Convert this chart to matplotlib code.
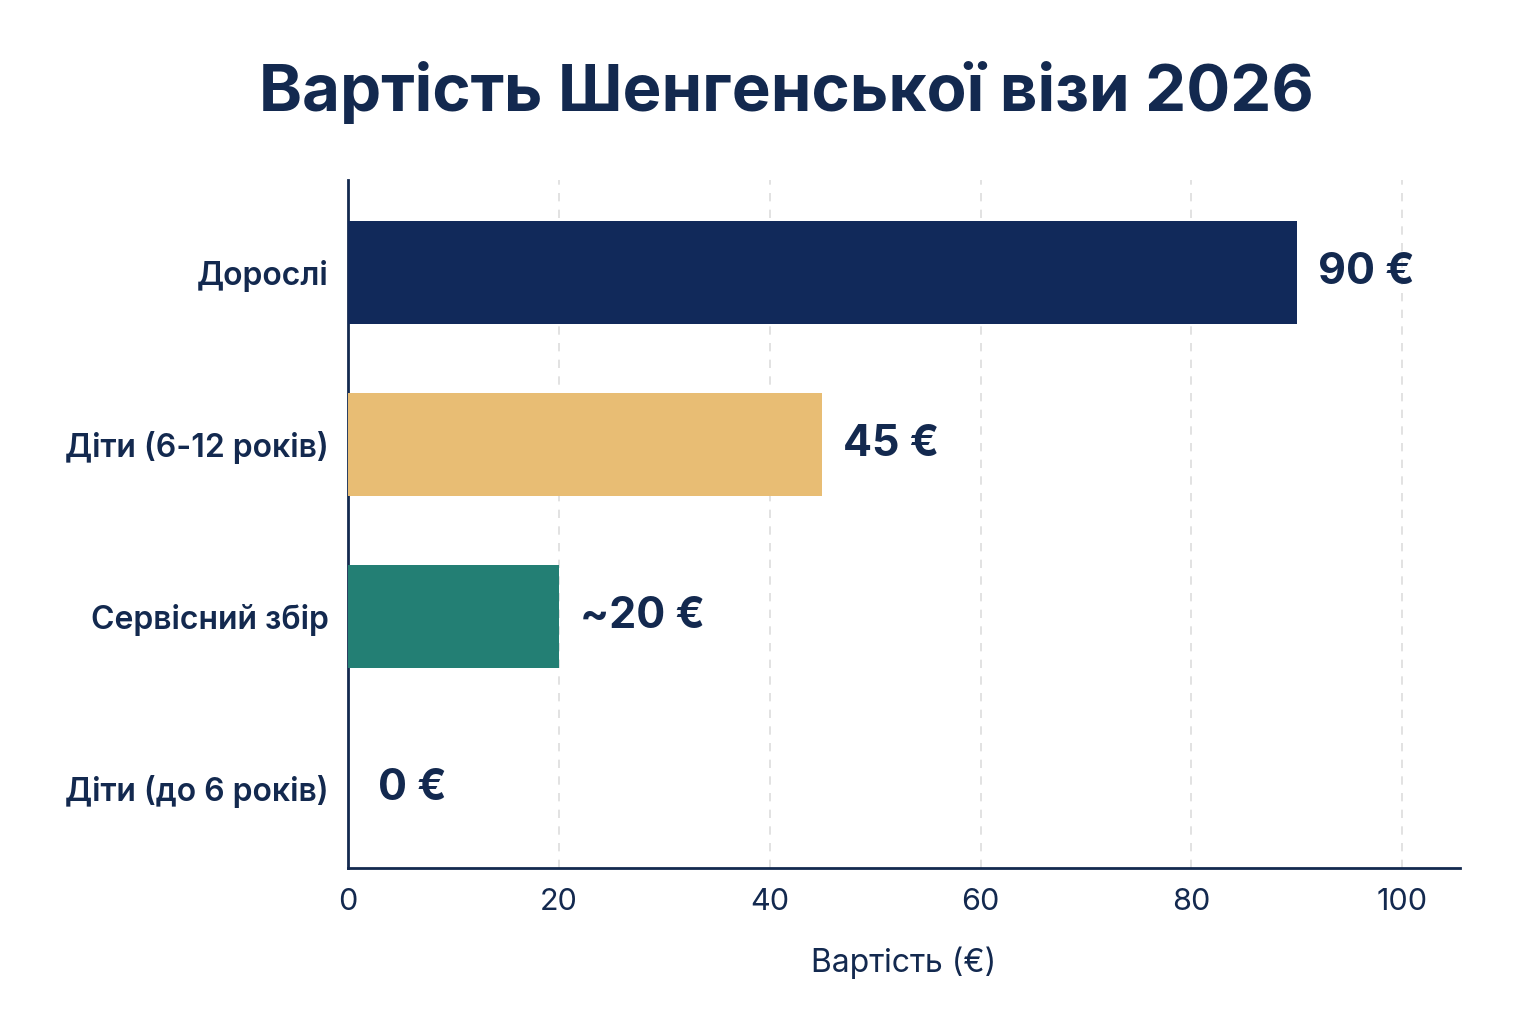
import matplotlib.pyplot as plt

categories = ['Дорослі', 'Діти (6-12 років)', 'Сервісний збір', 'Діти (до 6 років)']
values = [90, 45, 20, 0]
value_labels = ['90 €', '45 €', '~20 €', '0 €']
colors = ['#11295A', '#E8BD74', '#237F74', '#237F74']
navy = '#13294F'

plt.rcParams['font.family'] = ['Inter', 'DejaVu Sans']

fig = plt.figure(figsize=(15.36, 10.24), dpi=100)
ax = fig.add_axes([0.2266, 0.152, 0.724, 0.672])
ypos = list(range(len(categories)))
ax.barh(ypos, values, height=0.6, color=colors, zorder=3)
for y, v, lab in zip(ypos, values, value_labels):
    ax.text(v + 2 + (0.8 if v == 0 else 0), y, lab, va='center', ha='left',
            fontsize=31, fontweight='bold', color=navy)

ax.set_xlim(0, 105.5)
ax.set_ylim(3.465, -0.535)
ax.set_yticks(ypos)
ax.set_yticklabels(categories, fontsize=23, fontweight='semibold', color=navy)
ax.set_xticks([0, 20, 40, 60, 80, 100])
ax.tick_params(axis='x', labelsize=22, labelcolor=navy, length=0, pad=14)
ax.tick_params(axis='y', length=0, pad=14)
ax.grid(axis='x', linestyle=(0, (5, 5)), color='#DDDDDD', linewidth=1.2, zorder=0)
for s in ['top', 'right']:
    ax.spines[s].set_visible(False)
for s in ['left', 'bottom']:
    ax.spines[s].set_color(navy)
    ax.spines[s].set_linewidth(2)
ax.set_xlabel('Вартість (€)', fontsize=23, color=navy, labelpad=22)
fig.text(0.512, 0.91, 'Вартість Шенгенської візи 2026', ha='center', va='center',
         fontsize=47, fontweight='bold', color=navy)
fig.savefig('out.png', facecolor='white')
